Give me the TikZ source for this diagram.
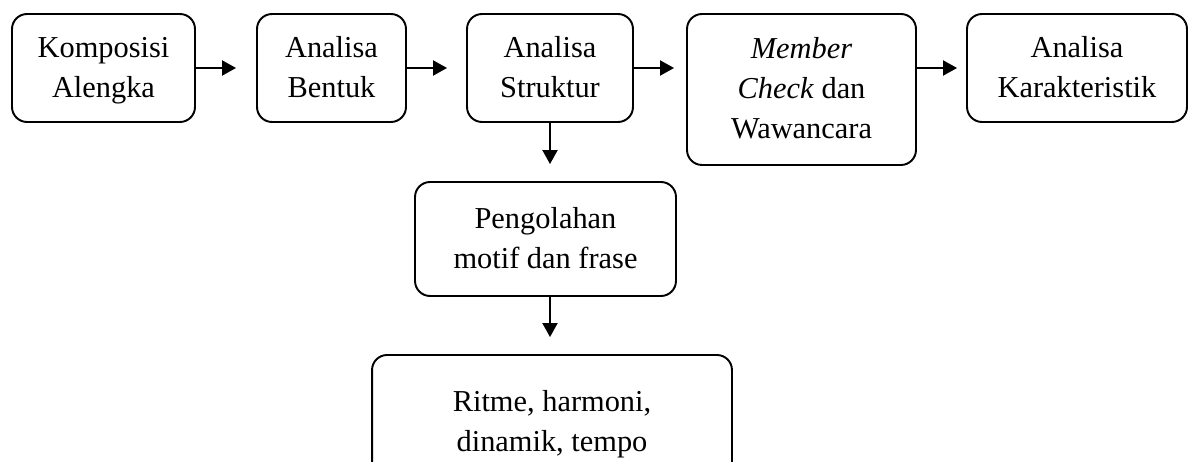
\documentclass[tikz,border=0pt]{standalone}
\usepackage{fontspec}
\setmainfont{Liberation Serif}
\usetikzlibrary{arrows.meta}
\newcommand\boxstrut{\rule[-5.6pt]{0pt}{21.6pt}}
\tikzset{
  stepbox/.style={draw, line width=1.1pt, rounded corners=0.3cm, align=center,
    inner sep=0pt, font=\fontsize{17.3}{22.8}\selectfont},
  flow/.style={line width=1.1pt, -{Triangle[length=0.28cm,width=0.3cm]}, shorten >=#1}
}
\begin{document}
\begin{tikzpicture}[x=0.02cm,y=-0.02cm]
    \useasboundingbox (0,0) rectangle (1191,462);

    % top row
    \node[stepbox, minimum width=3.66cm, minimum height=2.16cm] (komposisi) at (103.5,68)
      {\boxstrut Komposisi\\Alengka\boxstrut};
    \node[stepbox, minimum width=2.98cm, minimum height=2.16cm] (bentuk) at (331.5,68)
      {\boxstrut Analisa\\Bentuk\boxstrut};
    \node[stepbox, minimum width=3.32cm, minimum height=2.16cm] (struktur) at (550,68)
      {\boxstrut Analisa\\Struktur\boxstrut};
    \node[stepbox, minimum width=4.58cm, minimum height=3.02cm] (member) at (801.5,89.5)
      {\boxstrut\textit{Member}\\\textit{Check} dan\\Wawancara\boxstrut};
    \node[stepbox, minimum width=4.40cm, minimum height=2.16cm] (karakter) at (1077,68)
      {\boxstrut Analisa\\Karakteristik\boxstrut};

    % lower column
    \node[stepbox, minimum width=5.22cm, minimum height=2.28cm] (motif) at (545.5,239)
      {\boxstrut Pengolahan\\motif dan frase\boxstrut};
    \node[stepbox, minimum width=7.20cm, minimum height=2.68cm] (ritme) at (552,422)
      {\boxstrut Ritme, harmoni,\\dinamik, tempo\boxstrut};

    % arrows
    \draw[flow=0.4cm] (komposisi.east) -- (bentuk.west);
    \draw[flow=0.38cm] (bentuk.east) -- (struktur.west);
    \draw[flow=0.24cm] (struktur.east) -- (member.west |- struktur.east);
    \draw[flow=0.18cm] (member.east |- karakter.west) -- (karakter.west);
    \draw[flow=0.34cm] (struktur.south) -- (struktur.south |- motif.north);
    \draw[flow=0.34cm] (motif.south -| struktur.south) -- (struktur.south |- ritme.north);
\end{tikzpicture}
\end{document}
